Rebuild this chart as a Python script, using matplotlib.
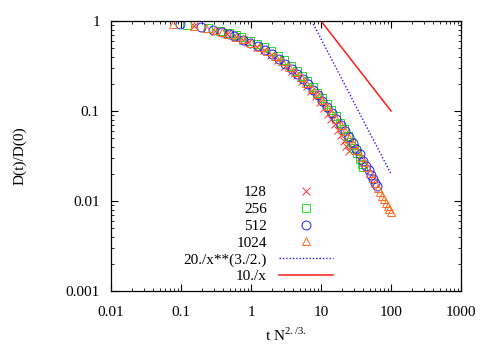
import numpy as np
import matplotlib
matplotlib.use("Agg")
import matplotlib.pyplot as plt

# ── data ─────────────────────────────────────────────────────────────────────
x_128 = [0.154, 0.31, 0.46, 0.62, 0.77, 0.92, 1.23, 1.54, 1.95, 2.45, 3.1, 3.85,
         4.6, 5.4, 6.3, 7.3, 8.4, 9.6, 11, 12.5, 14, 15.6, 17.3, 19, 21, 23, 25.4]
y_128 = [0.87, 0.78, 0.715, 0.66, 0.615, 0.58, 0.52, 0.47, 0.42, 0.37, 0.32, 0.28,
         0.248, 0.218, 0.19, 0.166, 0.145, 0.126, 0.108, 0.093, 0.081, 0.071, 0.062,
         0.054, 0.047, 0.041, 0.036]

x_256 = [0.122, 0.244, 0.366, 0.49, 0.61, 0.73, 0.98, 1.22, 1.55, 1.95, 2.45, 3.0,
         3.7, 4.5, 5.4, 6.4, 7.6, 8.9, 10.4, 12, 14, 16.2, 18.6, 21.2, 24, 27, 30,
         33, 36, 39, 40.3]
y_256 = [0.90, 0.83, 0.775, 0.73, 0.695, 0.66, 0.605, 0.56, 0.51, 0.46, 0.41, 0.365,
         0.32, 0.28, 0.245, 0.213, 0.185, 0.16, 0.139, 0.12, 0.102, 0.087, 0.074,
         0.063, 0.053, 0.045, 0.039, 0.034, 0.029, 0.0255, 0.024]

x_512 = [0.097, 0.194, 0.29, 0.39, 0.49, 0.58, 0.78, 0.97, 1.25, 1.6, 2.0, 2.5, 3.1,
         3.8, 4.6, 5.5, 6.5, 7.7, 9.0, 10.5, 12.2, 14.2, 16.5, 19, 22, 25, 28.5, 32,
         36, 40, 44, 48, 52, 56, 60, 63]
y_512 = [0.917, 0.85, 0.795, 0.75, 0.71, 0.68, 0.62, 0.575, 0.525, 0.475, 0.425, 0.38,
         0.335, 0.295, 0.26, 0.228, 0.197, 0.171, 0.149, 0.13, 0.111, 0.095, 0.081,
         0.070, 0.060, 0.051, 0.044, 0.038, 0.033, 0.028, 0.0248, 0.022, 0.0194,
         0.0175, 0.0158, 0.0146]

x_1024 = [0.077, 0.154, 0.231, 0.308, 0.385, 0.462, 0.616, 0.77, 1.0, 1.3, 1.7, 2.2,
          2.8, 3.5, 4.3, 5.2, 6.2, 7.4, 8.7, 10.2, 12, 14, 16.5, 19, 22, 25.5, 29,
          33, 37, 41, 45.5, 50, 55, 60, 65, 70, 75, 80, 85, 90, 95, 100]
y_1024 = [0.93, 0.877, 0.83, 0.786, 0.75, 0.72, 0.665, 0.625, 0.57, 0.515, 0.46,
          0.405, 0.355, 0.31, 0.273, 0.238, 0.205, 0.177, 0.154, 0.133, 0.113, 0.097,
          0.081, 0.070, 0.060, 0.050, 0.043, 0.0365, 0.031, 0.027, 0.0237, 0.0205,
          0.018, 0.0158, 0.0141, 0.0127, 0.0115, 0.0104, 0.0096, 0.0088, 0.0082, 0.0076]

SERIES = [
    ("128",  x_128,  y_128,  "x", "#ff3030"),
    ("256",  x_256,  y_256,  "s", "#22dd22"),
    ("512",  x_512,  y_512,  "o", "#2020ff"),
    ("1024", x_1024, y_1024, "^", "#ff6a20"),
]

plt.rcParams["font.family"] = ["Liberation Serif", "DejaVu Serif"]
plt.rcParams["mathtext.fontset"] = "custom"
plt.rcParams["mathtext.rm"] = "Liberation Serif"

fig = plt.figure(figsize=(4.91, 3.44), dpi=100)
ax = fig.add_axes([0.226, 0.154, 0.713, 0.785])

for label, xs, ys, mk, col in SERIES:
    ax.plot(xs, ys, linestyle="none", marker=mk, markersize=6.4,
            markerfacecolor="none", markeredgecolor=col, markeredgewidth=0.7,
            label=label)

# reference power laws
xa = np.logspace(np.log10(20 ** (2 / 3)), 2, 100)
ax.plot(xa, 20.0 / xa ** 1.5, color="#1a1aff", linestyle=(0, (1, 1.4)),
        linewidth=1.0, label="20./x**(3./2.)")
xb = np.logspace(1, 2, 50)
ax.plot(xb, 10.0 / xb, color="#ff1a1a", linewidth=1.1, label="10./x")

ax.set_xscale("log")
ax.set_yscale("log")
ax.set_xlim(0.01, 1000)
ax.set_ylim(0.001, 1)
ax.set_xticks([0.01, 0.1, 1, 10, 100, 1000])
ax.set_xticklabels(["0.01", "0.1", "1", "10", "100", "1000"])
ax.set_yticks([0.001, 0.01, 0.1, 1])
ax.set_yticklabels(["0.001", "0.01", "0.1", "1"])
ax.tick_params(which="both", direction="in", top=True, right=True,
               labelsize=11)
ax.tick_params(axis="x", which="major", pad=11)
ax.tick_params(axis="y", which="major", pad=8)
ax.tick_params(which="major", length=5, width=0.8)
ax.tick_params(which="minor", length=2.5, width=0.6)
for sp in ax.spines.values():
    sp.set_linewidth(0.9)

ax.set_xlabel(r"t N$^{\mathrm{2./3.}}$", fontsize=11, labelpad=5)
ax.set_ylabel("D(t)/D(0)", fontsize=11, labelpad=28)

ax.legend(loc="lower right", bbox_to_anchor=(0.655, 0.0), markerfirst=False,
          frameon=False, numpoints=1, handlelength=3.5, handletextpad=0.8,
          fontsize=11, labelspacing=0.2, borderpad=0.3, borderaxespad=0.2)

fig.savefig("out.png", dpi=100)
